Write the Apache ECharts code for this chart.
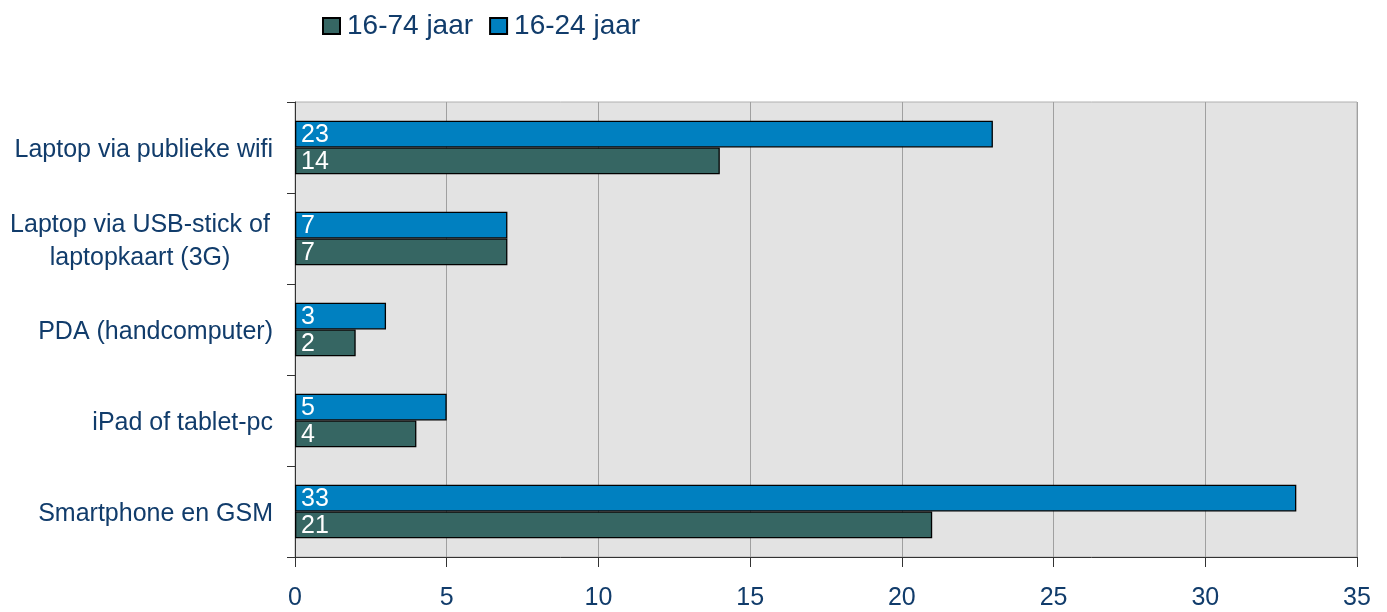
<!DOCTYPE html>
<html><head><meta charset="utf-8">
<script src="https://cdn.jsdelivr.net/npm/echarts@6/dist/echarts.min.js"></script>
<style>html,body{margin:0;padding:0;background:#fff}#c{width:1387px;height:612px}</style>
</head><body><div id="c"></div>
<script>
const categories = ['Smartphone en GSM', 'iPad of tablet-pc', 'PDA (handcomputer)', 'Laptop via USB-stick of\nlaptopkaart (3G)', 'Laptop via publieke wifi'];
const seriesNames = ['16-74 jaar', '16-24 jaar'];
const values1674 = [21, 4, 2, 7, 14];
const values1624 = [33, 5, 3, 7, 23];
const xTicks = [0, 5, 10, 15, 20, 25, 30, 35];

const navy = '#113c6b';
const chart = echarts.init(document.getElementById('c'));
const labelStyle = {show: true, position: 'insideLeft', offset: [1, 1], color: '#fff', fontSize: 25, fontFamily: 'Liberation Sans, Arial, sans-serif'};
chart.setOption({
  animation: false,
  textStyle: {fontFamily: 'Liberation Sans, Arial, sans-serif'},
  legend: {
    left: 317, top: 7, itemWidth: 17, itemHeight: 16, itemGap: 16, icon: 'rect',
    textStyle: {color: navy, fontSize: 28, padding: [0,0,0,2]},
    data: seriesNames
  },
  grid: {left: 295, right: 30, top: 102, bottom: 55, show: true, backgroundColor: '#e3e3e3', borderColor: '#b0b0b0', borderWidth: 1},
  xAxis: {
    type: 'value', min: xTicks[0], max: xTicks[xTicks.length-1], interval: 5,
    axisLine: {show: true, lineStyle: {color: '#333', width: 1}},
    axisTick: {show: true, length: 10, lineStyle: {color: '#333'}},
    axisLabel: {color: navy, fontSize: 25, margin: 29},
    splitLine: {show: true, lineStyle: {color: '#a0a0a0', width: 1}}
  },
  yAxis: {
    type: 'category', data: categories,
    axisLine: {show: true, lineStyle: {color: '#333', width: 1}},
    axisTick: {show: true, length: 8, lineStyle: {color: '#333'}},
    axisLabel: {
      color: navy, fontSize: 25, margin: 22, lineHeight: 33, padding: [6, 0, 0, 0],
      formatter: v => v.indexOf('\n') >= 0 ? v.split('\n').map(l => '{w|' + l + '}').join('\n') : v,
      rich: {w: {color: navy, fontSize: 25, width: 266, align: 'center', lineHeight: 33}}
    }
  },
  series: [
    {name: seriesNames[1], type: 'bar', data: values1624, barWidth: 26.7, barGap: '0%',
     itemStyle: {color: '#0080c0', borderColor: '#000', borderWidth: 1.3}, label: labelStyle},
    {name: seriesNames[0], type: 'bar', data: values1674, barWidth: 26.7, barGap: '0%',
     itemStyle: {color: '#366663', borderColor: '#000', borderWidth: 1.3}, label: labelStyle}
  ]
});
</script></body></html>
